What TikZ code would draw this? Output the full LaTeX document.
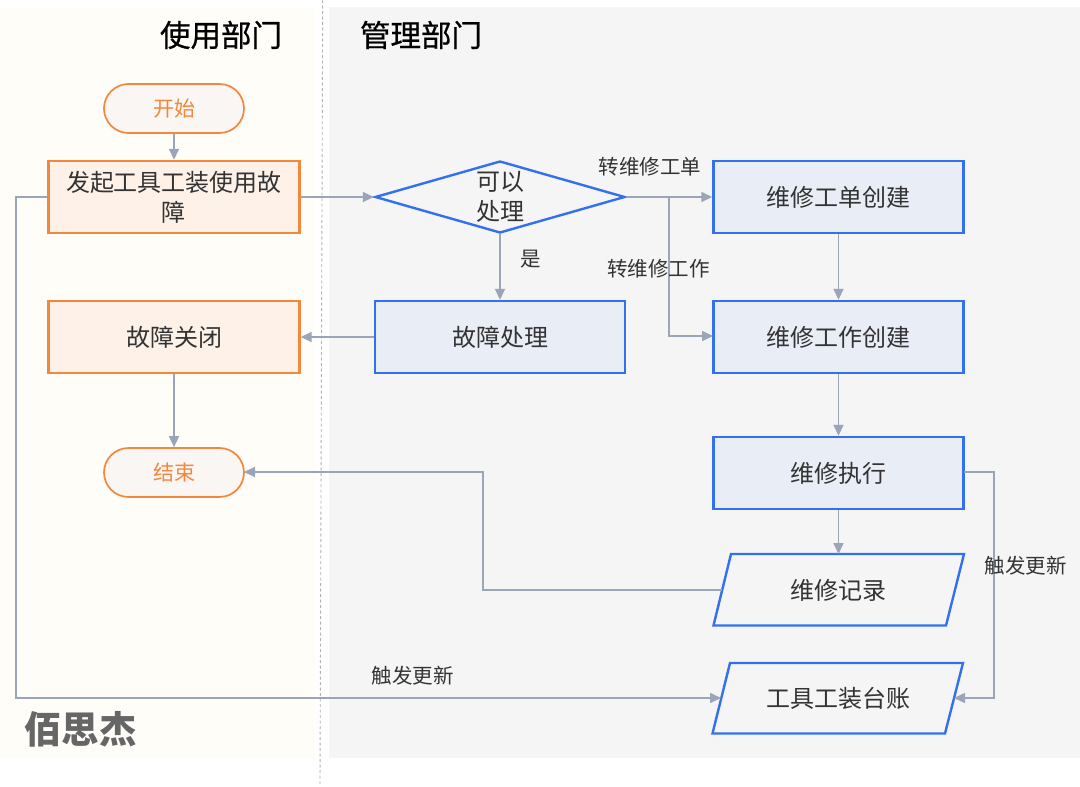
\documentclass[tikz,border=0pt]{standalone}
\usepackage{fontspec}
\setmainfont{Noto Sans CJK SC}
\newfontfamily\titlefont[FakeBold=0.7]{Noto Sans CJK SC}
\usetikzlibrary{shapes.geometric,shapes.misc,arrows.meta,calc}
\definecolor{lanebgA}{HTML}{FFFDF8}
\definecolor{lanebgB}{HTML}{F5F5F6}
\definecolor{orangeln}{HTML}{F5873C}
\definecolor{orangefl}{HTML}{FDF1E8}
\definecolor{termfl}{HTML}{F9F6F4}
\definecolor{blueln}{HTML}{3370F0}
\definecolor{bluefl}{HTML}{E9EEF6}
\definecolor{conn}{HTML}{9AA5B8}
\definecolor{txt}{HTML}{333333}
\newcommand{\fs}[1]{\fontsize{#1}{#1}\selectfont}
\tikzset{
  x=1pt,y=-1pt,
  body/.style={text=txt,font=\fs{24},inner sep=0pt,align=center},
  orangebox/.style={body,draw=orangeln,fill=orangefl,line width=2.4pt,minimum width=251pt,minimum height=72pt},
  bluebox/.style={body,draw=blueln,fill=bluefl,line width=2.4pt,minimum width=250pt,minimum height=72pt},
  term/.style={draw=orangeln,fill=termfl,line width=1.7pt,rounded rectangle,minimum width=140pt,minimum height=49pt,text=orangeln,font=\fs{21},inner sep=0pt},
  deci/.style={draw=blueln,fill=lanebgB,line width=2.4pt,diamond,aspect=3.47,minimum width=250pt,minimum height=72pt,inner sep=0pt},
  para/.style={draw=blueln,fill=lanebgB,line width=2.4pt,line join=miter},
  arrowln/.style={draw=conn,line width=1.6pt,-{Triangle[length=11pt,width=10pt]}},
  lbl/.style={text=txt,font=\fs{20.5},inner sep=0pt},
  title/.style={text=black,font=\titlefont\fs{30.5},inner sep=0pt},
}
\begin{document}
\begin{tikzpicture}
\useasboundingbox (0,0) rectangle (1080,787);
\fill[white] (0,0) rectangle (1080,787);
\fill[lanebgA] (0,7) rectangle (315,758);
\fill[lanebgB] (329,7) rectangle (1080,758);
\coordinate (divtop) at (322.7,0);
\coordinate (divbot) at (320,785);
\draw[draw=black!30,line width=0.9pt,dash pattern=on 3pt off 2.5pt] (divtop) -- (divbot);

\node[title] (t1) at (221,35) {使用部门};
\node[title] (t2) at (421,35) {管理部门};
\node[text=black!60,font=\fs{37.5}\bfseries,inner sep=0pt] (wm) at (80.5,729) {佰思杰};

\node[term] (start) at (174,108.5) {\raisebox{-1pt}{开始}};
\node[orangebox] (issue) at (174,197) {};
\node[body] (issuetext) at (174,197) {发起工具工装使用故\\[6pt]障};
\node[deci] (dec) at (500,197) {};
\node[body] (dectext) at (500,197) {可以\\[6pt]处理};
\node[bluebox] (wo) at (838.5,197) {\raisebox{-1pt}{维修工单创建}};
\node[orangebox] (close) at (174,337) {\raisebox{-1pt}{故障关闭}};
\node[bluebox] (handle) at (500,337) {\raisebox{-1pt}{故障处理}};
\node[bluebox] (job) at (838.5,337) {\raisebox{-1pt}{维修工作创建}};
\node[term] (end) at (174,472.5) {\raisebox{-1pt}{结束}};
\node[bluebox] (exec) at (838.5,473) {\raisebox{-1pt}{维修执行}};

\draw[para] (731,554) -- (964,554) -- (946,625.5) -- (713.5,625.5) -- cycle;
\node[body] (rec) at (838.5,590.5) {维修记录};
\draw[para] (730,663) -- (963,663) -- (945,733.5) -- (712.5,733.5) -- cycle;
\node[body] (led) at (838.5,698.5) {工具工装台账};

\coordinate (recin) at (838.5,554);
\coordinate (recout) at (722,590);
\coordinate (ledL) at (721,698);
\coordinate (ledR) at (954,698);
\coordinate (execR) at (964,472);
\coordinate (job2) at (713,336);
\coordinate (split) at (669,197);
\coordinate (endR) at (244,472);

\draw[arrowln] (start.south) -- (issue.north);
\draw[arrowln] (issue.east) -- (dec.west);
\draw[arrowln] (dec.east) -- (wo.west);
\draw[arrowln] (split) |- (job2);
\draw[arrowln] (dec.south) -- (handle.north);
\draw[arrowln] (handle.west) -- (close.east);
\draw[arrowln] (close.south) -- (end.north);
\draw[arrowln] (wo.south) -- (job.north);
\draw[arrowln] (job.south) -- (exec.north);
\draw[arrowln] (exec.south) -- (recin);
\draw[arrowln] (recout) -- (483,590) -- (483,472) -- (endR);
\draw[arrowln] (execR) -- (994,472) -- (994,698) -- (ledR);
\draw[arrowln] (issue.west) -- (16,197) -- (16,698) -- (ledL);

\node[lbl] (l1) at (650,166.5) {转维修工单};
\node[lbl] (l2) at (658.5,268.5) {转维修工作};
\node[lbl] (l3) at (531,259) {是};
\node[lbl] (l4) at (1025.5,566) {触发更新};
\node[lbl] (l5) at (412.5,676) {触发更新};
\end{tikzpicture}
\end{document}
